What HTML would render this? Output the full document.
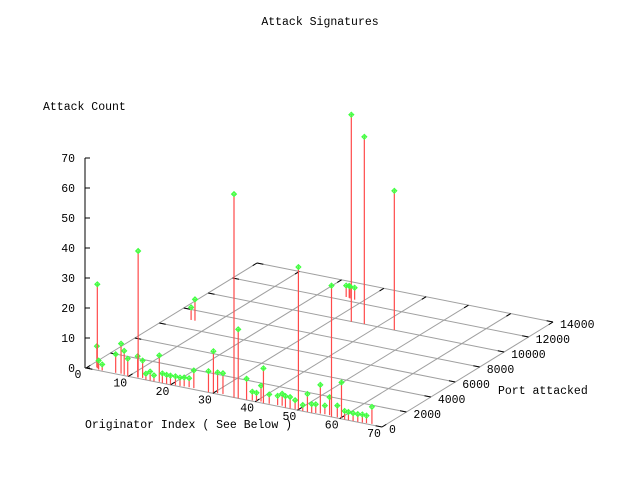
<!DOCTYPE html>
<html><head><meta charset="utf-8"><style>
html,body{margin:0;padding:0;background:#fff;}
svg{display:block;}
text{font-family:"Liberation Mono",monospace;font-size:11.5px;fill:#000;}
</style></head><body>
<svg id="chart" width="640" height="480" viewBox="0 0 640 480" xmlns="http://www.w3.org/2000/svg">
<text x="320" y="25" text-anchor="middle">Attack Signatures</text>
<text x="43" y="110">Attack Count</text>
<text x="85" y="428">Originator Index ( See Below )</text>
<text x="498" y="394">Port attacked</text>
<g id="grid"></g>
<g id="axes"></g>
<g id="marks"></g>
</svg>
<script>
const xTicks = [0,10,20,30,40,50,60,70];
const yTicks = [0,2000,4000,6000,8000,10000,12000,14000];
const zTicks = [0,10,20,30,40,50,60,70];
const originator = [1.7,2.1,2.7,3.6,6.7,7.9,8.8,9.8,11.9,12.1,13,14.1,15.1,16,17.1,18,19,19.9,21,22,22.9,24,25.1,28.9,29.9,30.8,32,35,36,37.9,39.1,40,41,41.9,43.1,45,46,47.1,48.2,49.3,50,51.2,52.3,53.3,54.1,55.1,56.1,57.2,58,59.2,60.1,61.1,62,63.1,64.2,65.2,66.1,67.3,33.9,36.9,44,25.8,26.6,26.9,28.1,5.7,4.8];
const port = [300,200,100,80,110,135,80,25,110,80,135,22,23,25,80,21,22,25,53,80,110,135,139,22,80,110,135,0,0,25,80,110,135,22,80,110,135,22,25,53,80,21,22,25,80,110,135,139,20,80,110,21,22,23,25,53,80,110,9985,10012,10010,12369,12340,12300,12266,6948,6944];
const counts = [7,28,3,2,6.2,10,8,5.8,7,42.2,5.8,2,3,2,8.8,3.2,3,3,3,2.8,3,3,5.9,7,13.8,6.9,6.9,67.8,23,7,2.9,2.7,5.3,11.6,3.1,3.1,4,3.8,3.8,3,47.5,2,6,2.9,2.9,9.6,2.9,6,43.7,3.9,11.8,2.8,2.7,2.6,2.6,2.7,2.5,5.7,69,62.4,46.4,3.8,4,4,4,7.1,4.2];

const NS="http://www.w3.org/2000/svg";
const O={x:86,y:368};
function px(x,y){return O.x + x/70*296 + y/14000*171;}
function py(x,y,z){return O.y + x/70*59 - y/14000*105 - z*3.0;}
function mk(tag,attrs,parent){const e=document.createElementNS(NS,tag);for(const k in attrs)e.setAttribute(k,attrs[k]);parent.appendChild(e);return e;}
const grid=document.getElementById('grid'),axes=document.getElementById('axes'),marks=document.getElementById('marks');

xTicks.forEach(x=>{
  const l=mk('line',{x1:px(x,0),y1:py(x,0,0),x2:px(x,14000),y2:py(x,14000,0),stroke:'#a0a0a0','stroke-width':1},grid);
  
  
});
yTicks.forEach(y=>{
  const l=mk('line',{x1:px(0,y),y1:py(0,y,0),x2:px(70,y),y2:py(70,y,0),stroke:'#a0a0a0','stroke-width':1},grid);
  
  
});
// x ticks and labels
xTicks.forEach(x=>{
  mk('line',{x1:px(x,0),y1:py(x,0,0),x2:px(x,350),y2:py(x,350,0),stroke:'#000'},axes);
  mk('line',{x1:px(x,14000),y1:py(x,14000,0),x2:px(x,13650),y2:py(x,13650,0),stroke:'#000'},axes);
  const t=mk('text',{x:px(x,0)-8,y:py(x,0,0)+10,'text-anchor':'middle'},axes);
  t.textContent=x;
  
  
});
yTicks.forEach(y=>{
  mk('line',{x1:px(70,y),y1:py(70,y,0),x2:px(68.5,y),y2:py(68.5,y,0),stroke:'#000'},axes);
  mk('line',{x1:px(0,y),y1:py(0,y,0),x2:px(1.5,y),y2:py(1.5,y,0),stroke:'#000'},axes);
  const t=mk('text',{x:px(70,y)+7,y:py(70,y,0)+6},axes);
  t.textContent=y;
  
  
});
// z axis
mk('line',{x1:85,y1:py(0,0,0),x2:85,y2:py(0,0,70),stroke:'#000'},axes);
zTicks.forEach(z=>{
  const yy=py(0,0,z);
  mk('line',{x1:85,y1:yy,x2:90,y2:yy,stroke:'#000'},axes);
  const t=mk('text',{x:75,y:yy+4,'text-anchor':'end'},axes);
  t.textContent=z;
  
  
});
// impulses
for(let i=0;i<counts.length;i++){
  const bx=px(originator[i],port[i]), by=py(originator[i],port[i],0), ty=py(originator[i],port[i],counts[i]);
  const g=mk('g',{},marks);
  
  
  mk('line',{x1:bx,y1:by,x2:bx,y2:ty,stroke:'#ff4a4a','stroke-width':1.2},g);
  mk('path',{d:`M${bx-2.5},${ty} L${bx},${ty-2.5} L${bx+2.5},${ty} L${bx},${ty+2.5} Z M${bx-2.5},${ty} L${bx+2.5},${ty} M${bx},${ty-2.5} L${bx},${ty+2.5}`,stroke:'#40ff40',fill:'none','stroke-width':1},g);
}
</script>
</body></html>
